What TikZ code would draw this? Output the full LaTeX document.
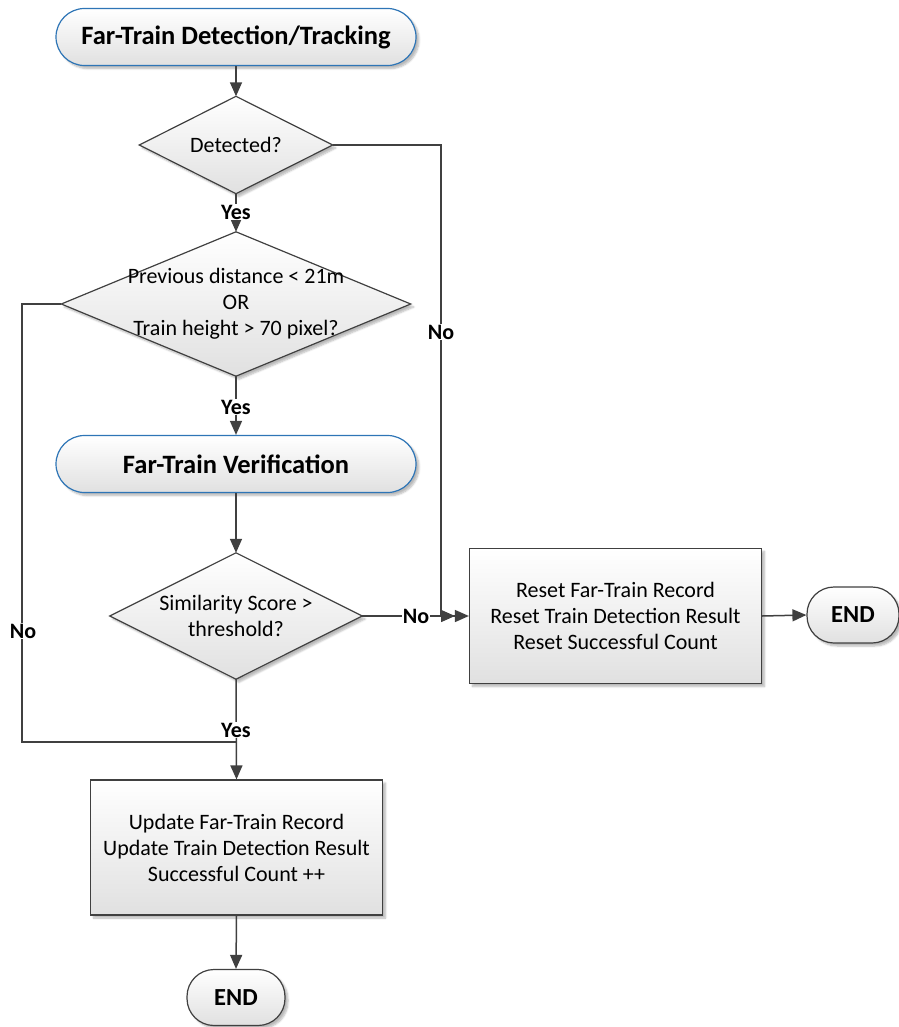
\documentclass[tikz,border=0pt]{standalone}
\usepackage{fontspec}
\setmainfont{Carlito}
\usetikzlibrary{arrows.meta,shadows.blur}
\pgfdeclarelayer{bg}
\pgfsetlayers{bg,main}
\definecolor{lineg}{HTML}{404040}
\definecolor{termblue}{HTML}{2E75B6}
\tikzset{
  shaded/.style={top color=white, bottom color=black!12,
    blur shadow={shadow xshift=3pt, shadow yshift=-3pt, shadow blur steps=6, shadow opacity=28}},
  txt/.style={font=\fontsize{22}{26}\selectfont, align=center},
  btxt/.style={font=\bfseries\fontsize{26.5}{31}\selectfont, align=center},
  term/.style={shaded, btxt, draw=termblue, line width=1.2pt, rounded corners=28.5pt,
    minimum width=360pt, minimum height=57pt, inner sep=0pt},
  endterm/.style={shaded, draw=lineg, line width=1.2pt, rounded corners=27pt,
    minimum height=56pt, inner sep=0pt, align=center, font=\bfseries\fontsize{24.5}{29}\selectfont},
  procbox/.style={shaded, txt, draw=lineg, line width=1.2pt,
    minimum width=292pt, minimum height=135pt, inner sep=0pt},
  dslot/.style={txt, inner sep=0pt},
  dshape/.style={shaded, draw=lineg, line width=1.2pt},
  conn/.style={draw=lineg, line width=1.5pt},
  arr/.style={conn, -{Triangle[length=14pt,width=12pt]}},
  lbl/.style={fill=white, inner sep=1pt, font=\bfseries\fontsize{22}{26}\selectfont},
}
\begin{document}
\begin{tikzpicture}[x=1pt, y=-1pt]
\useasboundingbox (0,0) rectangle (898,1027);

% terminators and process boxes
\node[term] (t1) at (236,37) {Far-Train Detection/Tracking};
\node[term] (t2) at (236,464) {Far-Train Verification};
\node[procbox] (reset) at (615.5,616) {Reset Far-Train Record\\Reset Train Detection Result\\Reset Successful Count};
\node[procbox] (upd) at (236.5,847.5) {Update Far-Train Record\\Update Train Detection Result\\Successful Count ++};
\node[endterm, minimum width=92pt] (endR) at (853,615) {END};
\node[endterm, minimum width=98pt] (endB) at (236,997.5) {END};

% decision nodes (text slots; the diamonds are drawn behind them)
\node[dslot, minimum width=193pt, minimum height=97pt] (d1) at (236,145) {Detected?};
\node[dslot, minimum width=349pt, minimum height=144pt] (d2) at (236,304) {Previous distance < 21m\\OR\\Train height > 70 pixel?};
\node[dslot, minimum width=252pt, minimum height=126pt] (d3) at (236,616) {Similarity Score >\\threshold?};

\begin{pgfonlayer}{bg}
  \foreach \d in {d1,d2,d3}
    \path[dshape] (\d.north) -- (\d.east) -- (\d.south) -- (\d.west) -- cycle;
\end{pgfonlayer}

% connectors
\coordinate (c1) at (441,145);
\coordinate (c2) at (441,616);
\coordinate (c3) at (455,616);
\coordinate (c4) at (22,304);
\coordinate (c5) at (22,742);
\coordinate (c6) at (236,742);

\draw[arr] (t1.south) -- (d1.north);
\draw[arr] (d1.south) -- (d2.north);
\draw[arr] (d2.south) -- (t2.north);
\draw[arr] (t2.south) -- (d3.north);
\draw[arr] (d3.south) -- (upd.north);
\draw[arr] (upd.south) -- (endB.north);
\draw[arr] (d3.east) -- (reset.west);
\draw[arr] (reset.east) -- (endR.west);
\draw[arr] (d1.east) -- (c1) -- (c2) -- (c3);
\draw[conn] (d2.west) -- (c4) -- (c5) -- (c6);

% branch labels
\node[lbl] (y1) at (236,212) {Yes};
\node[lbl] (y2) at (236,407) {Yes};
\node[lbl] (y3) at (236,730) {Yes};
\node[lbl] (n1) at (441,332) {No};
\node[lbl] (n2) at (23,631) {No};
\node[lbl] (n3) at (416,616) {No};
\end{tikzpicture}
\end{document}
